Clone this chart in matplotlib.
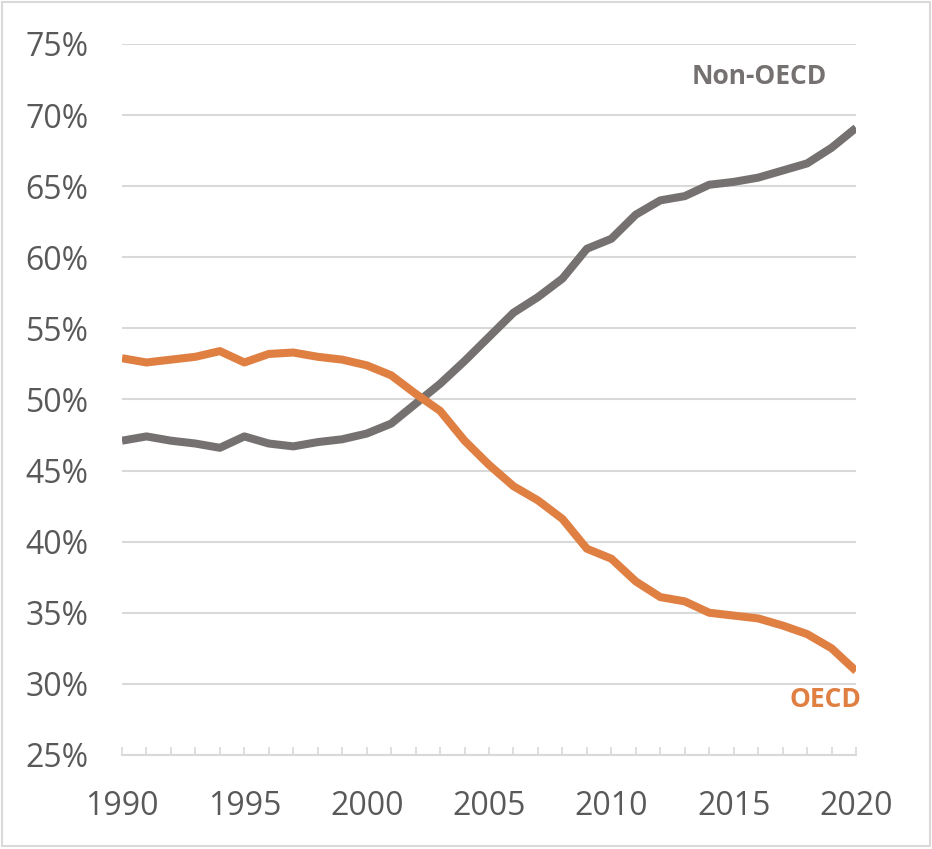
import numpy as np
import matplotlib
matplotlib.use("Agg")
import matplotlib.pyplot as plt
from matplotlib.patches import Rectangle

years = list(range(1990, 2021))
non_oecd = [47.1, 47.4, 47.1, 46.9, 46.6, 47.4, 46.9, 46.7, 47.0, 47.2,
            47.6, 48.3, 49.7, 51.1, 52.7, 54.4, 56.1, 57.2, 58.5, 60.6,
            61.3, 63.0, 64.0, 64.3, 65.1, 65.3, 65.6, 66.1, 66.6, 67.7, 69.1]
oecd = [52.9, 52.6, 52.8, 53.0, 53.4, 52.6, 53.2, 53.3, 53.0, 52.8,
        52.4, 51.7, 50.4, 49.2, 47.1, 45.4, 43.9, 42.9, 41.6, 39.5,
        38.8, 37.2, 36.1, 35.8, 35.0, 34.8, 34.6, 34.1, 33.5, 32.5, 30.9]
y_ticks = [25, 30, 35, 40, 45, 50, 55, 60, 65, 70, 75]
x_ticks = [1990, 1995, 2000, 2005, 2010, 2015, 2020]

GRAY = "#767171"
ORANGE = "#E07F42"
TXT = "#595959"
LIGHT = "#D9D9D9"

plt.rcParams['font.family'] = ['Open Sans', 'DejaVu Sans']

fig = plt.figure(figsize=(9.32, 8.49), dpi=100)
ax = fig.add_axes([0.1309, 0.1108, 0.9185 - 0.1309, 0.9482 - 0.1108])

ax.plot(years, non_oecd, color=GRAY, lw=5.8, solid_capstyle='butt', zorder=3)
ax.plot(years, oecd, color=ORANGE, lw=5.8, solid_capstyle='butt', zorder=3)

ax.set_xlim(1990, 2020)
ax.set_ylim(25, 75)
ax.set_yticks(y_ticks)
ax.set_yticklabels([f"{v}%" for v in y_ticks])
ax.set_xticks(x_ticks)
ax.set_xticks(years, minor=True)
ax.grid(axis='y', color=LIGHT, lw=1.5, zorder=0)

for s in ['top', 'right', 'left']:
    ax.spines[s].set_visible(False)
ax.spines['bottom'].set_color(LIGHT)
ax.spines['bottom'].set_linewidth(1.5)

ax.tick_params(axis='y', length=0, labelsize=23, labelcolor=TXT, pad=24)
ax.tick_params(axis='x', which='both', direction='in', length=6,
               color=LIGHT, width=1.2, labelsize=23, labelcolor=TXT, pad=25)

ax.text(2018.8, 72.7, "Non-OECD", color=GRAY, fontsize=19,
        fontweight='bold', ha='right', va='center')
ax.text(2020.2, 28.9, "OECD", color=ORANGE, fontsize=19,
        fontweight='bold', ha='right', va='center')

fig.patches.append(Rectangle((0.002, 0.004), 0.996, 0.994, transform=fig.transFigure,
                             fill=False, edgecolor=LIGHT, lw=1.5))

fig.savefig("out.png", dpi=100)
